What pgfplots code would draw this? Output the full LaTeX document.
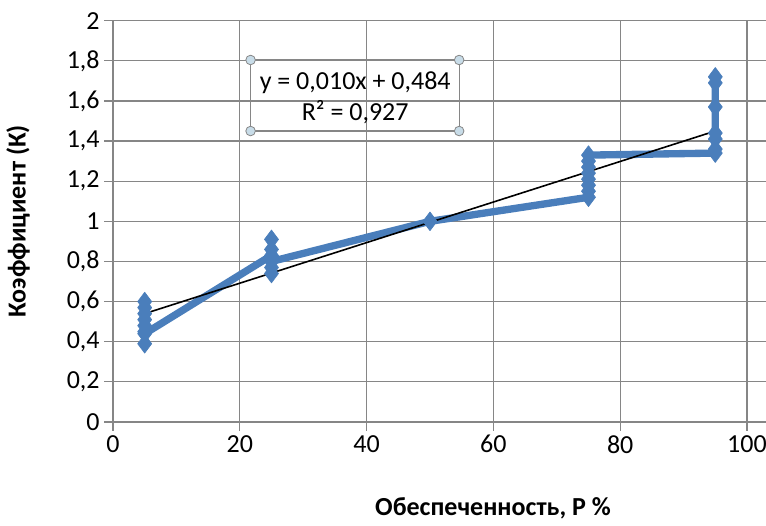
\documentclass[border=0pt]{standalone}
\usepackage{fontspec}
\setmainfont{Carlito}
\usepackage{pgfplots}
\pgfplotsset{compat=1.18}

\definecolor{ser}{RGB}{74,126,187}
\definecolor{gridc}{RGB}{134,134,134}
\definecolor{handle}{RGB}{200,220,232}

\begin{document}
\begin{tikzpicture}
\begin{axis}[
  name=ax,
  scale only axis, width=489.75pt, height=301pt,
  xmin=0, xmax=103, ymin=0, ymax=2,
  xtick={0,20,40,60,80,100},
  ytick={0,0.2,0.4,0.6,0.8,1,1.2,1.4,1.6,1.8,2},
  axis lines*=left,
  axis line style={gridc, line width=0.9pt},
  grid=major, major grid style={gridc, line width=0.9pt},
  tick align=outside, major tick length=6.5pt,
  tick style={gridc, line width=0.9pt},
  /pgf/number format/use comma,
  /pgf/number format/assume math mode=true,
  ticklabel style={font=\fontsize{19.5}{23}\selectfont},
  xlabel={\textbf{Обеспеченность, P \%}},
  ylabel={\textbf{Коэффициент (К)}},
  label style={font=\fontsize{19.5}{23}\selectfont},
  xlabel style={at={(axis description cs:0.582,0)}, anchor=center, yshift=-64.5pt},
  ylabel style={at={(axis description cs:-0.1455,0.5)}, anchor=center},
  clip=false,
]
\addplot[ser, line width=5.5pt, line join=round, mark=diamond*, mark size=7pt,
  mark options={fill=ser, draw=ser, line width=0.5pt}] coordinates {
  (5,0.60) (5,0.57) (5,0.54) (5,0.51) (5,0.48) (5,0.45) (5,0.39) (5,0.44)
  (25,0.83) (25,0.91) (25,0.86) (25,0.77) (25,0.74) (25,0.80)
  (50,1.00)
  (75,1.12) (75,1.15) (75,1.18) (75,1.21) (75,1.24) (75,1.27) (75,1.30) (75,1.33)
  (95,1.34) (95,1.36) (95,1.41) (95,1.44) (95,1.57) (95,1.69) (95,1.72)
};
\addplot[black, line width=1.2pt] coordinates {(5,0.54) (95,1.45)};
\draw[gridc, line width=0.9pt] (axis cs:21.7,1.45) rectangle (axis cs:54.6,1.804);
\filldraw[fill=handle, draw=gridc, line width=0.6pt] (axis cs:21.7,1.45) circle[radius=3.6pt];
\filldraw[fill=handle, draw=gridc, line width=0.6pt] (axis cs:54.6,1.45) circle[radius=3.6pt];
\filldraw[fill=handle, draw=gridc, line width=0.6pt] (axis cs:21.7,1.804) circle[radius=3.6pt];
\filldraw[fill=handle, draw=gridc, line width=0.6pt] (axis cs:54.6,1.804) circle[radius=3.6pt];
\node[font=\fontsize{19.5}{23}\selectfont] at (axis cs:38.2,1.69) {y = 0,010x + 0,484};
\node[font=\fontsize{19.5}{23}\selectfont] at (axis cs:38.2,1.545) {R² = 0,927};
\end{axis}
\pgfresetboundingbox
\path[use as bounding box] ([xshift=-84.75pt,yshift=-78pt]ax.south west) rectangle ([yshift=15.5pt]ax.north east);
\end{tikzpicture}
\end{document}
